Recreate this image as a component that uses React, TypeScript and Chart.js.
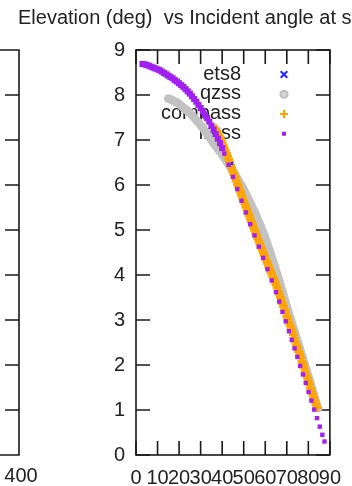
import React, { useEffect, useRef } from 'react';
import { Chart, registerables } from 'chart.js';

Chart.register(...registerables);

// ---- chart content ----
const titleText = 'Elevation (deg)  vs Incident angle at s';
const xTicks = [0, 10, 20, 30, 40, 50, 60, 70, 80, 90];
const yTicks = [0, 1, 2, 3, 4, 5, 6, 7, 8, 9];
const leftPlotXLabel = '400';
const legendLabels = ['ets8', 'qzss', 'compass', 'irnss'];

// ets8 (blue x)
const ets8X = [44.6];
const ets8Y = [6.48];

// qzss (gray circles)
const qzssX = [15, 16, 17, 18, 19, 20, 21, 22, 23, 24, 25, 26, 27, 28, 29, 30, 31, 32, 33, 34, 35, 36, 37, 38, 39, 40, 41, 42, 43, 44, 45,
  45.5, 46, 46.5, 47, 47.5, 48, 48.5, 49, 49.5, 50, 50.5, 51, 51.5, 52, 52.5, 53, 53.5, 54, 54.5, 55, 55.5, 56, 56.5, 57, 57.5, 58, 58.5, 59, 59.5, 60,
  60.5, 61, 61.5, 62, 62.5, 63, 63.5, 64, 64.5, 65, 65.5, 66, 66.5, 67, 67.5, 68, 68.5, 69, 69.5, 70, 70.5, 71, 71.5, 72, 72.5, 73, 73.5, 74, 74.5, 75,
  75.5, 76, 76.5, 77, 77.5, 78, 78.5, 79, 79.5, 80, 80.5, 81, 81.5, 82, 82.5, 83, 83.5, 84, 84.5];
const qzssY = [7.92, 7.90, 7.88, 7.85, 7.83, 7.80, 7.76, 7.72, 7.68, 7.64, 7.60, 7.55, 7.50, 7.44, 7.39, 7.33, 7.27, 7.20, 7.14, 7.07, 7.00, 6.93, 6.87, 6.80, 6.74, 6.67, 6.60, 6.53, 6.45, 6.38, 6.30,
  6.26, 6.22, 6.18, 6.14, 6.10, 6.06, 6.02, 5.98, 5.94, 5.90, 5.85, 5.80, 5.75, 5.70, 5.65, 5.60, 5.55, 5.50, 5.45, 5.40, 5.35, 5.29, 5.23, 5.17, 5.12, 5.06, 5.00, 4.94, 4.88, 4.82,
  4.75, 4.68, 4.61, 4.54, 4.47, 4.39, 4.32, 4.25, 4.18, 4.10, 4.02, 3.94, 3.86, 3.78, 3.70, 3.62, 3.54, 3.46, 3.38, 3.30, 3.22, 3.14, 3.07, 2.99, 2.91, 2.83, 2.76, 2.68, 2.60, 2.52,
  2.45, 2.37, 2.29, 2.21, 2.14, 2.06, 1.98, 1.90, 1.83, 1.75, 1.67, 1.59, 1.51, 1.43, 1.35, 1.27, 1.19, 1.11, 1.04];

// compass (orange plus)
const compassX = [37, 37.5, 38, 38.5, 39, 39.5, 40, 40.5, 41, 41.5, 42, 42.5, 43, 43.5, 44, 44.5, 45, 45.5, 46, 46.5, 47, 47.5, 48, 48.5, 49, 49.5, 50, 50.5,
  51, 51.5, 52, 52.5, 53, 53.5, 54, 54.5, 55, 55.5, 56, 56.5, 57, 57.5, 58, 58.5, 59, 59.5, 60, 60.5, 61, 61.5, 62, 62.5, 63, 63.5, 64, 64.5, 65, 65.5,
  66, 66.5, 67, 67.5, 68, 68.5, 69, 69.5, 70, 70.5, 71, 71.5, 72, 72.5, 73, 73.5, 74, 74.5, 75, 75.5, 76, 76.5, 77, 77.5, 78, 78.5, 79, 79.5, 80, 80.5,
  81, 81.5, 82, 82.5, 83, 83.5, 84];
const compassY = [7.25, 7.20, 7.15, 7.10, 7.05, 7.00, 6.94, 6.88, 6.82, 6.76, 6.70, 6.64, 6.57, 6.51, 6.44, 6.37, 6.30, 6.24, 6.17, 6.10, 6.03, 5.97, 5.90, 5.84, 5.77, 5.71, 5.64, 5.58,
  5.51, 5.45, 5.38, 5.32, 5.25, 5.19, 5.12, 5.06, 5.00, 4.94, 4.87, 4.81, 4.75, 4.69, 4.62, 4.56, 4.50, 4.44, 4.37, 4.32, 4.26, 4.20, 4.14, 4.08, 4.02, 3.96, 3.90, 3.84, 3.78, 3.71,
  3.64, 3.57, 3.50, 3.43, 3.36, 3.30, 3.23, 3.16, 3.08, 3.02, 2.95, 2.88, 2.81, 2.74, 2.67, 2.59, 2.51, 2.44, 2.37, 2.30, 2.23, 2.16, 2.08, 2.01, 1.94, 1.86, 1.78, 1.71, 1.64, 1.57,
  1.49, 1.42, 1.35, 1.28, 1.20, 1.13, 1.06];

// irnss (purple dots)
const irnssX = [3, 4, 5, 6, 7, 8, 9, 10, 11, 12, 13, 14, 15, 16, 17, 18, 19, 20, 21, 22, 23, 24, 25, 26, 27, 28, 29, 30, 31, 32, 33, 34, 35, 36, 37, 38, 39, 40,
  41, 43, 45, 47, 49, 51, 53, 55, 57, 59, 61, 63, 65, 66.5, 68, 69.5, 71, 72.3, 73.6, 74.9, 76.2, 77.5, 78.8, 80.1, 81.4, 82.7, 84, 85.3, 86.5, 87.5];
const irnssY = [8.69, 8.68, 8.67, 8.65, 8.63, 8.61, 8.59, 8.57, 8.55, 8.52, 8.49, 8.46, 8.43, 8.40, 8.37, 8.33, 8.30, 8.26, 8.22, 8.18, 8.13, 8.08, 8.03, 7.97, 7.91, 7.85, 7.78, 7.71, 7.64, 7.57, 7.49, 7.41, 7.32, 7.23, 7.13, 7.03, 6.93, 6.82,
  6.70, 6.45, 6.18, 5.91, 5.65, 5.39, 5.13, 4.88, 4.63, 4.38, 4.13, 3.88, 3.62, 3.41, 3.18, 2.97, 2.75, 2.56, 2.37, 2.18, 1.98, 1.79, 1.60, 1.40, 1.21, 1.01, 0.82, 0.63, 0.45, 0.30];

// ---- styles ----
const FONT = "'Liberation Sans', Arial, sans-serif";
const TEXT_COLOR = '#222';
const LINE_COLOR = '#1a1a1a';
const C_ETS8 = '#2424ff';
const C_QZSS = '#c2c2c2';
const C_COMPASS = '#ffa500';
const C_IRNSS = '#a020f0';
const TICK = 14;

const toPts = (xs: number[], ys: number[]) => xs.map((x, i) => ({ x, y: ys[i] }));

const gnuplotPlugin = {
  id: 'gnuplotDecor',
  beforeDatasetsDraw(chart: any) {
    const { ctx, chartArea: a, scales } = chart;
    const xs = scales.x;
    const ys = scales.y;
    ctx.save();
    // title
    ctx.fillStyle = TEXT_COLOR;
    ctx.font = `20px ${FONT}`;
    ctx.textAlign = 'left';
    ctx.textBaseline = 'alphabetic';
    ctx.fillText(titleText, 18, 24);

    // frame + inward ticks
    ctx.strokeStyle = LINE_COLOR;
    ctx.lineWidth = 1.6;
    ctx.beginPath();
    for (const v of xTicks) {
      const px = xs.getPixelForValue(v);
      ctx.moveTo(px, a.bottom);
      ctx.lineTo(px, a.bottom - TICK);
      ctx.moveTo(px, a.top);
      ctx.lineTo(px, a.top + TICK);
    }
    for (const v of yTicks) {
      const py = ys.getPixelForValue(v);
      ctx.moveTo(a.left, py);
      ctx.lineTo(a.left + TICK, py);
      ctx.moveTo(a.right, py);
      ctx.lineTo(a.right - TICK, py);
    }
    // neighbouring (cropped) plot on the left
    const lx = 19;
    for (const v of yTicks) {
      const py = ys.getPixelForValue(v);
      ctx.moveTo(lx, py);
      ctx.lineTo(lx - TICK, py);
    }
    ctx.moveTo(0, a.top);
    ctx.lineTo(lx, a.top);
    ctx.lineTo(lx, a.bottom);
    ctx.lineTo(0, a.bottom);
    ctx.stroke();
    ctx.strokeRect(a.left, a.top, a.right - a.left, a.bottom - a.top);

    // left plot x label
    ctx.textAlign = 'center';
    ctx.textBaseline = 'alphabetic';
    ctx.fillText(leftPlotXLabel, 21, 482);

    // key
    const textRight = 241;
    const symX = 284;
    const base0 = 79.5;
    const step = 19.75;
    ctx.textAlign = 'right';
    legendLabels.forEach((lab, i) => {
      const by = base0 + i * step;
      ctx.fillStyle = TEXT_COLOR;
      ctx.fillText(lab, textRight, by);
      const cy = by - 5;
      if (lab === 'ets8') {
        ctx.strokeStyle = C_ETS8;
        ctx.lineWidth = 2;
        ctx.beginPath();
        ctx.moveTo(symX - 3.3, cy - 3.3);
        ctx.lineTo(symX + 3.3, cy + 3.3);
        ctx.moveTo(symX + 3.3, cy - 3.3);
        ctx.lineTo(symX - 3.3, cy + 3.3);
        ctx.stroke();
      } else if (lab === 'qzss') {
        ctx.fillStyle = '#d4d4d4';
        ctx.strokeStyle = '#bdbdbd';
        ctx.lineWidth = 2;
        ctx.beginPath();
        ctx.arc(symX, cy, 3.6, 0, Math.PI * 2);
        ctx.fill();
        ctx.stroke();
      } else if (lab === 'compass') {
        ctx.strokeStyle = C_COMPASS;
        ctx.lineWidth = 2.2;
        ctx.beginPath();
        ctx.moveTo(symX - 4, cy);
        ctx.lineTo(symX + 4, cy);
        ctx.moveTo(symX, cy - 4);
        ctx.lineTo(symX, cy + 4);
        ctx.stroke();
      } else {
        ctx.fillStyle = C_IRNSS;
        ctx.fillRect(symX - 2, cy - 2, 4, 4);
      }
    });
    ctx.restore();
  },
};

export default function App() {
  const ref = useRef<HTMLCanvasElement | null>(null);

  useEffect(() => {
    document.body.style.margin = '0';
    if (!ref.current) return;
    const chart = new Chart(ref.current, {
      type: 'scatter',
      data: {
        datasets: [
          {
            label: 'ets8',
            data: toPts(ets8X, ets8Y),
            pointStyle: 'crossRot',
            pointRadius: 1.6,
            borderColor: C_ETS8,
            backgroundColor: C_ETS8,
            borderWidth: 1.3,
            order: 0,
          },
          {
            label: 'irnss',
            data: toPts(irnssX, irnssY),
            pointStyle: 'rect',
            pointRadius: (c: any) => (c.raw && c.raw.x <= 40 ? 4.3 : 3.1),
            backgroundColor: C_IRNSS,
            borderColor: C_IRNSS,
            borderWidth: 0,
            order: 1,
          },
          {
            label: 'compass',
            data: toPts(compassX, compassY),
            pointStyle: 'cross',
            pointRadius: 4.4,
            borderColor: C_COMPASS,
            backgroundColor: C_COMPASS,
            borderWidth: 3,
            order: 2,
          },
          {
            label: 'qzss',
            data: toPts(qzssX, qzssY),
            pointStyle: 'circle',
            pointRadius: 4.4,
            backgroundColor: C_QZSS,
            borderColor: C_QZSS,
            borderWidth: 0,
            order: 3,
          },
        ],
      },
      options: {
        responsive: false,
        animation: false,
        events: [],
        layout: { padding: { left: 0, top: 50, right: 13, bottom: 0 } },
        plugins: {
          legend: { display: false },
          title: { display: false },
          tooltip: { enabled: false },
        },
        scales: {
          x: {
            type: 'linear',
            min: 0,
            max: 90,
            afterBuildTicks: (s: any) => {
              s.ticks = xTicks.map((v) => ({ value: v }));
            },
            afterFit: (s: any) => {
              s.height = 31;
            },
            grid: { display: false, drawTicks: false },
            border: { display: false },
            ticks: {
              autoSkip: false,
              maxRotation: 0,
              minRotation: 0,
              padding: 11,
              color: TEXT_COLOR,
              font: { family: FONT, size: 20 },
            },
          },
          y: {
            type: 'linear',
            min: 0,
            max: 9,
            afterBuildTicks: (s: any) => {
              s.ticks = yTicks.map((v) => ({ value: v }));
            },
            afterFit: (s: any) => {
              s.width = 136;
            },
            grid: { display: false, drawTicks: false },
            border: { display: false },
            ticks: {
              autoSkip: false,
              padding: 11,
              color: TEXT_COLOR,
              font: { family: FONT, size: 20 },
            },
          },
        },
      },
      plugins: [gnuplotPlugin],
    });
    return () => chart.destroy();
  }, []);

  return (
    <canvas
      ref={ref}
      width={352}
      height={486}
      style={{ display: 'block', width: '352px', height: '486px' }}
    />
  );
}
